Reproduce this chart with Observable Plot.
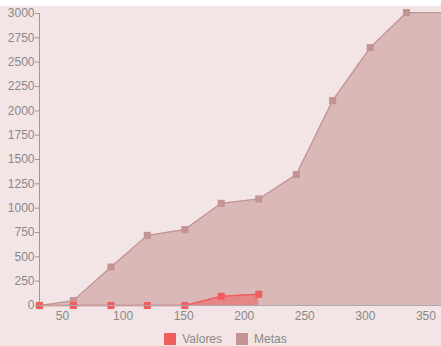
<!DOCTYPE html>
<html><head><meta charset="utf-8">
<script src="https://cdn.jsdelivr.net/npm/d3@7"></script>
<script src="https://cdn.jsdelivr.net/npm/@observablehq/plot@0.6"></script>
<style>
html,body{margin:0;padding:0;background:#fff;}
#wrap{width:441px;height:340px;margin-top:6px;background:#f3e5e5;overflow:hidden;position:relative;font-family:"Liberation Sans",Arial,sans-serif;}
#legend{position:absolute;left:0;top:326px;width:441px;height:14px;line-height:14px;display:flex;justify-content:center;gap:14px;font-size:12px;color:#888;padding-left:10px;box-sizing:border-box;}
#legend span.item{display:flex;align-items:center;gap:6px;}
#legend span.sw{display:inline-block;width:12px;height:12px;}
</style>
</head><body>
<div id="wrap"><div id="chart"></div><div id="legend"></div></div>
<script>
const days = [31, 59, 90, 120, 151, 181, 212, 243, 273, 304, 334, 365];
const metas = [0, 50, 395, 720, 780, 1050, 1095, 1345, 2105, 2650, 3010, 3010];
const valores = [0, 0, 0, 0, 0, 95, 115];
const seriesNames = ["Valores", "Metas"];
const seriesColors = ["#f05f5f", "#c49394"];
const xTicks = [50, 100, 150, 200, 250, 300, 350];
const yTicks = [0, 250, 500, 750, 1000, 1250, 1500, 1750, 2000, 2250, 2500, 2750, 3000];

const metasData = days.map((d, i) => ({x: d, y: metas[i]}));
const valoresData = valores.map((v, i) => ({x: days[i], y: v}));
const markerData = metasData.slice(0, 11);

const chart = Plot.plot({
  width: 441,
  height: 319,
  marginTop: 7,
  marginBottom: 20,
  marginLeft: 39,
  marginRight: 0,
  style: {background: "transparent", color: "#888", fontSize: "12px", fontFamily: "Liberation Sans, Arial, sans-serif"},
  x: {domain: [31, 365], range: [39, 443.6]},
  y: {domain: [0, 3000]},
  marks: [
    Plot.areaY(metasData, {x: "x", y: "y", fill: seriesColors[1], fillOpacity: 0.55}),
    Plot.lineY(metasData, {x: "x", y: "y", stroke: seriesColors[1], strokeWidth: 1.2}),
    Plot.dot(markerData, {x: "x", y: "y", symbol: "square", r: 4, fill: seriesColors[1]}),
    Plot.areaY(valoresData, {x: "x", y: "y", fill: seriesColors[0], fillOpacity: 0.55}),
    Plot.lineY(valoresData, {x: "x", y: "y", stroke: seriesColors[0], strokeWidth: 1.5}),
    Plot.dot(valoresData, {x: "x", y: "y", symbol: "square", r: 4, fill: seriesColors[0]}),
    Plot.ruleY([0], {stroke: "#aaa"}),
    Plot.ruleX([31], {stroke: "#999"}),
    Plot.axisY({ticks: yTicks, tickSize: 4, tickPadding: 1, tickFormat: d => String(d), label: null, stroke: "#999"}),
    Plot.axisX({ticks: xTicks, tickSize: 0, tickPadding: 6, tickFormat: d => String(d), label: null})
  ]
});
document.getElementById("chart").appendChild(chart);

const legend = document.getElementById("legend");
seriesNames.forEach((n, i) => {
  const item = document.createElement("span");
  item.className = "item";
  const sw = document.createElement("span");
  sw.className = "sw";
  sw.style.background = seriesColors[i];
  item.appendChild(sw);
  item.appendChild(document.createTextNode(n));
  legend.appendChild(item);
});
</script>
</body></html>
